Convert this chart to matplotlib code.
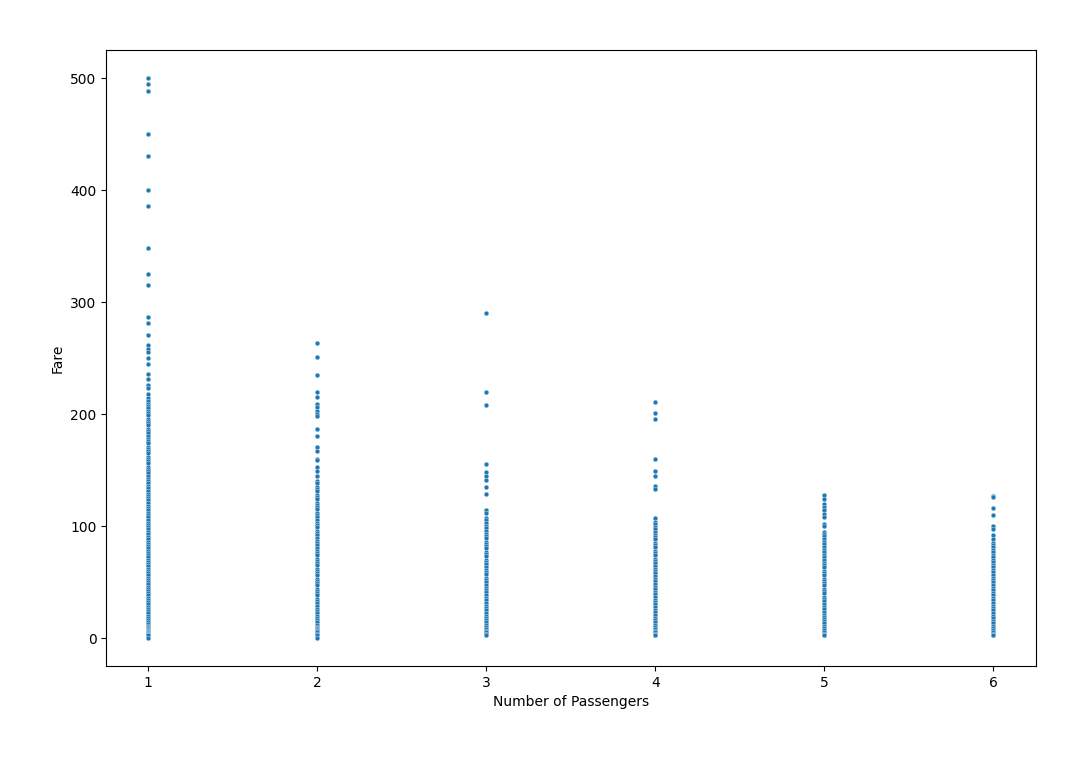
import matplotlib
matplotlib.use("Agg")
import matplotlib.pyplot as plt

# fares, grouped by passenger count
fare_1 = [500, 495, 488, 450, 430, 400, 386, 348, 325, 315, 287, 281, 271, 262, 258,
          255, 250, 245, 236, 231, 226, 223, 218, 214,
          212, 209, 207, 205, 203, 201, 199, 196, 194, 192, 190, 187, 185, 183, 180,
          178, 176, 174, 171, 169, 167, 165, 162, 160, 158, 156, 153, 151, 149, 147,
          145, 142, 140, 138, 136, 134, 131, 129, 127, 125, 123, 121, 118, 116, 114,
          112, 110, 108, 105, 103, 101, 99, 97, 95, 93, 90, 88, 86, 84, 82, 80, 78,
          76, 74, 72, 70, 68, 66, 64, 62, 60, 58, 56, 54, 52, 50, 48, 46, 44, 42, 40,
          38, 36, 34, 32, 30, 28, 26, 24, 22, 20, 18, 16, 14, 12.5, 11, 10, 9, 8, 7,
          6.5, 6, 5.5, 5, 4.5, 4, 3.5, 3, 2.5, 0]
fare_2 = [263, 251, 235, 220, 215, 209, 206, 203, 200, 198, 187, 180, 171, 167, 160,
          159, 153, 149, 145, 140,
          138, 135, 133, 131, 128, 126, 124, 121, 119, 117, 115, 112, 110, 108, 105,
          103, 101, 99, 96, 94, 92, 89, 87, 85, 83, 80, 78, 76, 74, 71, 69, 67, 65,
          62, 60, 58, 56, 53, 51, 49, 47, 44, 42, 40, 38, 35, 33, 31, 29, 26, 24, 22,
          20, 18, 16, 14, 12, 10, 9, 8, 7, 6, 5, 4, 3, 0]
fare_3 = [290, 220, 208, 155, 148, 145, 141, 135, 129, 114, 112,
          107, 105, 103, 100, 98, 96, 93, 91, 89, 86, 84, 82, 80, 77, 75, 73, 70, 68,
          66, 63, 61, 59, 57, 54, 52, 50, 47, 45, 43, 41, 38, 36, 34, 31, 29, 27, 25,
          22, 20, 18, 16, 14, 12, 10, 8, 6.5, 5, 4, 3]
fare_4 = [211, 201, 196, 160, 149, 145, 136, 133,
          107, 104, 102, 99, 97, 95, 92, 90, 88, 85, 83, 81, 78, 76, 74, 71, 69, 67,
          64, 62, 60, 58, 55, 53, 51, 48, 46, 44, 41, 39, 37, 34, 32, 30, 28, 25, 23,
          21, 18, 16, 14, 12, 10, 8, 6, 5, 4, 3, 2.5]
fare_5 = [128, 124, 120, 117, 114, 111, 108, 102, 100, 95, 93, 91, 88, 86, 84, 81, 79,
          77, 74, 72, 70, 67, 65, 63, 60, 58, 56, 53, 51, 49, 47, 44, 42, 40, 37, 35,
          33, 30, 28, 26, 23, 21, 19, 17, 15, 13, 11, 9, 7, 5.5, 4, 3, 2.5]
fare_6 = [127, 126, 116, 110, 100, 97, 92, 88, 85, 83, 81, 79, 77, 74, 72, 70, 68, 65,
          63, 61, 59, 56, 54, 52, 50, 47, 45, 43, 40, 38, 36, 34, 31, 29, 27, 25, 22,
          20, 18, 15, 13, 11, 9, 7, 5, 4, 3, 2.5]

passengers = [1, 2, 3, 4, 5, 6]
fares = [fare_1, fare_2, fare_3, fare_4, fare_5, fare_6]

x = []
y = []
for p, f in zip(passengers, fares):
    x += [p] * len(f)
    y += f

fig = plt.figure(figsize=(10.85, 7.59), dpi=100)
ax = fig.add_axes([0.0978, 0.1225, 0.8568, 0.8116])
ax.scatter(x, y, s=12, color='#1f77b4', edgecolors='white', linewidths=0.25)

ax.set_xticks(passengers)
ax.set_yticks([0, 100, 200, 300, 400, 500])
ax.set_xlabel('Number of Passengers')
ax.set_ylabel('Fare')

plt.savefig('out.png', dpi=100)
